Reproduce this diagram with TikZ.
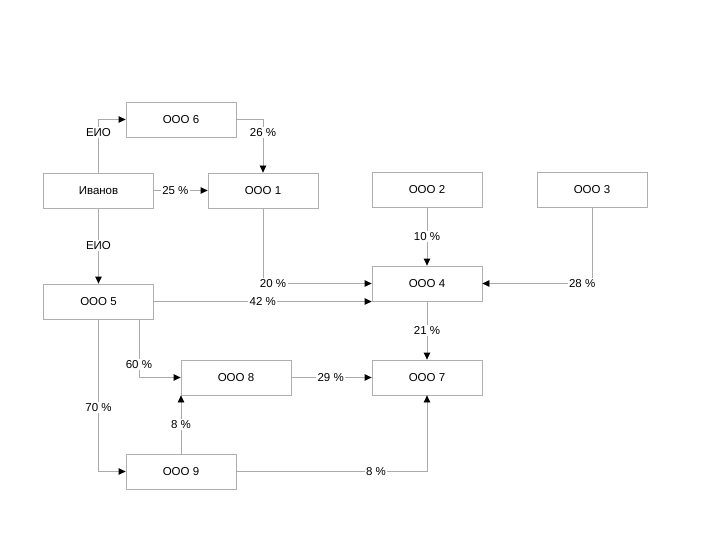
\documentclass[tikz,border=0pt]{standalone}
\usepackage{fontspec}
\setmainfont{Liberation Sans}
\usetikzlibrary{arrows.meta}
\definecolor{linec}{RGB}{170,170,170}
\definecolor{boxc}{RGB}{175,175,175}
\begin{document}
\begin{tikzpicture}[x=1pt,y=-1pt,
  font=\fontsize{11.5}{13}\selectfont,
  box/.style={draw=boxc,line width=0.8pt,minimum width=110pt,minimum height=35pt,inner sep=0pt},
  conn/.style={draw=linec,line width=0.8pt,-{Triangle[length=7pt,width=6.5pt,color=black]}},
  lbl/.style={fill=white,inner sep=1.5pt,text=black}]
\useasboundingbox (0,0) rectangle (720,540);
\node[box] (o6) at (181,119.5) {ООО 6};
\node[box] (iv) at (98.5,190.5) {Иванов};
\node[box] (o1) at (263,190.5) {ООО 1};
\node[box] (o2) at (427,189.5) {ООО 2};
\node[box] (o3) at (592,189.5) {ООО 3};
\node[box] (o4) at (427,283.5) {ООО 4};
\node[box] (o5) at (98.5,301.5) {ООО 5};
\node[box] (o8) at (236,377.5) {ООО 8};
\node[box] (o7) at (427,377.5) {ООО 7};
\node[box] (o9) at (181,471.5) {ООО 9};
\coordinate (o5a) at ([xshift=-15pt]o5.south east);

\draw[conn] (iv.north) |- node[lbl,pos=0.374] {ЕИО} (o6.west);
\draw[conn] (o6.east) -| node[lbl,pos=0.625] {26 \%} (o1.north);
\draw[conn] (iv.east) -- node[lbl,pos=0.4] {25 \%} (o1.west);
\draw[conn] (iv.south) -- node[lbl,pos=0.49] {ЕИО} (o5.north);
\draw[conn] (o1.south) |- node[lbl,pos=0.546] {20 \%} (o4.west);
\draw[conn] (o5.east) -- node[lbl,pos=0.5] {42 \%} (o5.east -| o4.west);
\draw[conn] (o2.south) -- node[lbl,pos=0.5] {10 \%} (o4.north);
\draw[conn] (o3.south) |- node[lbl,pos=0.545] {28 \%} (o4.east);
\draw[conn] (o4.south) -- node[lbl,pos=0.5] {21 \%} (o7.north);
\draw[conn] (o5a) |- node[lbl,pos=0.39] {60 \%} (o8.west);
\draw[conn] (o8.east) -- node[lbl,pos=0.49] {29 \%} (o7.west);
\draw[conn] (o5.south) |- node[lbl,pos=0.29] {70 \%} (o9.west);
\draw[conn] (o9.north) -- node[lbl,pos=0.5] {8 \%} (o9.north |- o8.south);
\draw[conn] (o9.east) -| node[lbl,pos=0.366] {8 \%} (o7.south);
\end{tikzpicture}
\end{document}
